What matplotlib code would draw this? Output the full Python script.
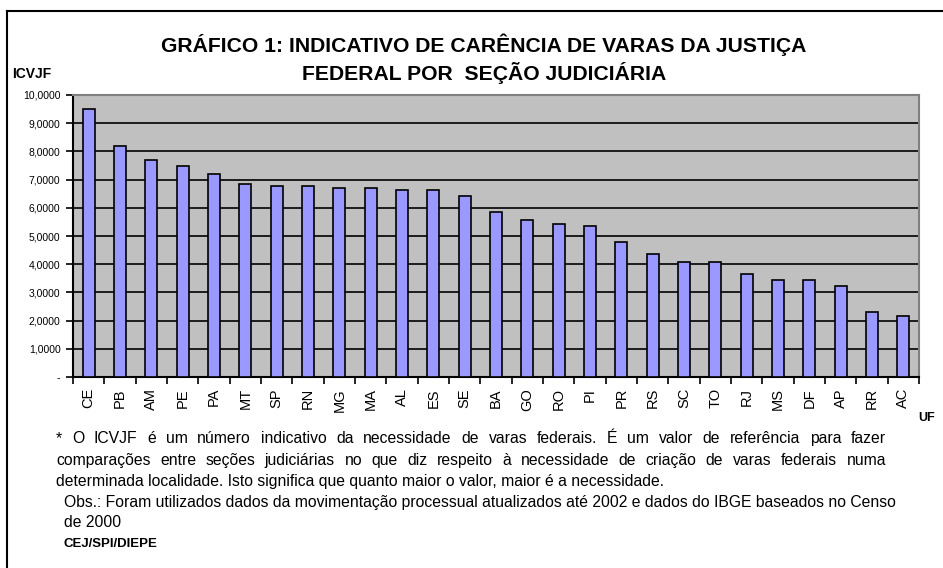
import matplotlib
matplotlib.use('Agg')
import matplotlib.pyplot as plt
import matplotlib.ticker as tck
import numpy as np

plt.rcParams['font.family'] = ['Liberation Sans', 'DejaVu Sans']

ufs = ['CE', 'PB', 'AM', 'PE', 'PA', 'MT', 'SP', 'RN', 'MG', 'MA', 'AL', 'ES', 'SE',
       'BA', 'GO', 'RO', 'PI', 'PR', 'RS', 'SC', 'TO', 'RJ', 'MS', 'DF', 'AP', 'RR', 'AC']
icvjf = [9.49, 8.20, 7.70, 7.49, 7.21, 6.85, 6.78, 6.78, 6.71, 6.71, 6.64, 6.64, 6.43,
         5.86, 5.56, 5.43, 5.36, 4.79, 4.37, 4.08, 4.08, 3.67, 3.44, 3.44, 3.23, 2.31, 2.17]
yticks = np.arange(0, 11, 1)
ytick_labels = ['-'] + [f'{v:,.4f}'.replace('.', ',') for v in yticks[1:]]

title = 'GRÁFICO 1: INDICATIVO DE CARÊNCIA DE VARAS DA JUSTIÇA\nFEDERAL POR  SEÇÃO JUDICIÁRIA'
note_lines = [
    '* O ICVJF é um número indicativo da necessidade de varas federais. É um valor de referência para fazer',
    'comparações entre seções judiciárias no que diz respeito à necessidade de criação de varas federais numa',
    'determinada localidade. Isto significa que quanto maior o valor, maior é a necessidade.',
]
obs_lines = [
    'Obs.: Foram utilizados dados da movimentação processual atualizados até 2002 e dados do IBGE baseados no Censo',
    'de 2000',
]

fig = plt.figure(figsize=(9.43, 5.68), dpi=100)
W, H = 943, 568
ax = fig.add_axes([73 / W, 1 - 377 / H, (919 - 73) / W, (377 - 95) / H])

x = np.arange(len(ufs))
ax.set_facecolor('#C0C0C0')
ax.bar(x, icvjf, width=0.38, color='#9999FF', edgecolor='black', linewidth=1.2, zorder=3)
ax.set_xlim(-0.5, len(ufs) - 0.5)
ax.set_ylim(0, 10)
ax.set_yticks(yticks)
ax.set_yticklabels(ytick_labels, fontsize=7.5)
ax.set_xticks(x)
ax.set_xticklabels(ufs, rotation=90, fontsize=10.5)
ax.xaxis.set_minor_locator(tck.FixedLocator(np.arange(-0.5, len(ufs), 1)))
ax.tick_params(axis='x', which='major', length=0, pad=8)
ax.tick_params(axis='x', which='minor', length=5, width=1.2, direction='out')
ax.tick_params(axis='y', length=5, width=1.2, direction='out', pad=4)
ax.yaxis.grid(True, color='black', linewidth=1.2, zorder=1)
ax.set_axisbelow(True)
for side in ['top', 'right']:
    ax.spines[side].set_color('#808080')
    ax.spines[side].set_linewidth(1.5)
for side in ['left', 'bottom']:
    ax.spines[side].set_linewidth(1.5)

fig.text(484 / W, 1 - 59 / H, title, ha='center', va='center', fontsize=15.2,
         fontweight='bold', linespacing=1.35)
fig.text(12 / W, 1 - 74 / H, 'ICVJF', ha='left', va='center', fontsize=10, fontweight='bold')
fig.text(918 / W, 1 - 418 / H, 'UF', ha='left', va='center', fontsize=9, fontweight='bold')

# footnote (baselines in px), the first two lines are justified between x=56 and x=886
fs = 11.3
renderer = fig.canvas.get_renderer()
note_y = [443, 465, 486]
for i, line in enumerate(note_lines):
    y = 1 - note_y[i] / H
    if i == len(note_lines) - 1:
        fig.text(56 / W, y, line, ha='left', va='baseline', fontsize=fs)
        continue
    words = line.split(' ')
    widths = []
    for wd in words:
        t = fig.text(0, 0, wd, fontsize=fs)
        widths.append(t.get_window_extent(renderer).width)
        t.remove()
    gap = (886 - 56 - sum(widths)) / (len(words) - 1)
    xpos = 56
    for wd, wdt in zip(words, widths):
        fig.text(xpos / W, y, wd, ha='left', va='baseline', fontsize=fs)
        xpos += wdt + gap

obs_y = [507, 527]
for i, line in enumerate(obs_lines):
    fig.text(64 / W, 1 - obs_y[i] / H, line, ha='left', va='baseline', fontsize=fs)
fig.text(64 / W, 1 - 547 / H, 'CEJ/SPI/DIEPE', ha='left', va='baseline', fontsize=9.5,
         fontweight='bold')

# frame lines on top and left
fig.add_artist(plt.Line2D([7 / W, 7 / W], [0, 1 - 11 / H], color='black', linewidth=1.5))
fig.add_artist(plt.Line2D([7 / W, 1], [1 - 11 / H, 1 - 11 / H], color='black', linewidth=1.5))

fig.savefig('out.png', dpi=100)
